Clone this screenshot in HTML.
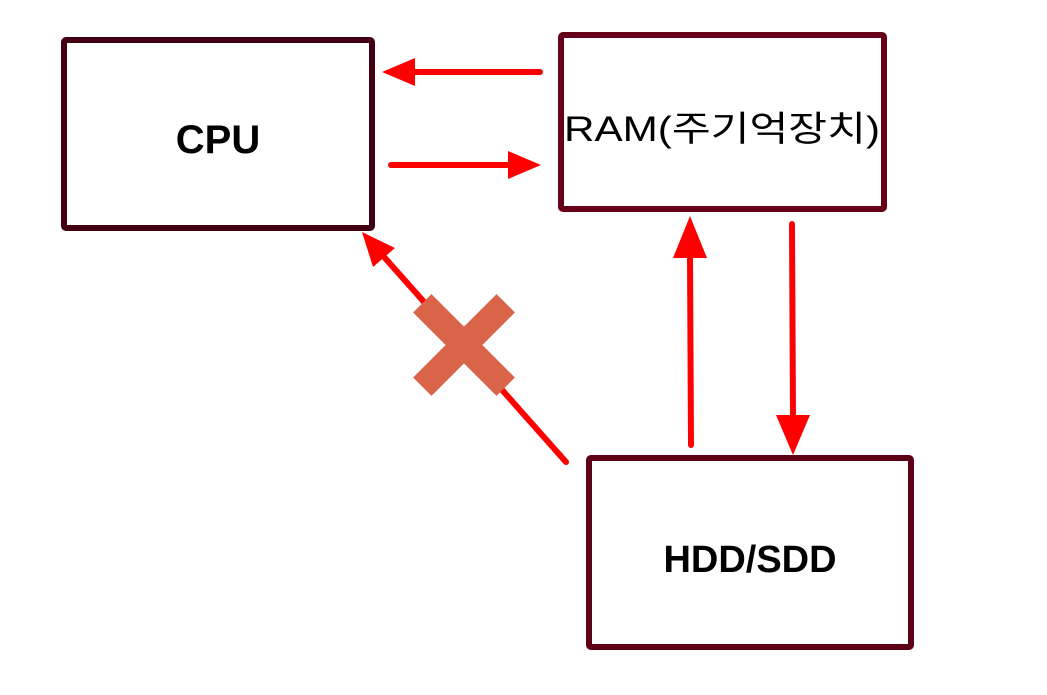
<!DOCTYPE html>
<html><head><meta charset="utf-8"><style>
html,body{margin:0;padding:0;background:#fff;}
svg{display:block}
</style></head><body>
<svg width="1047" height="695" viewBox="0 0 1047 695" xmlns="http://www.w3.org/2000/svg">
<rect x="64" y="40" width="308" height="188" fill="#fff" stroke="#420012" stroke-width="6" rx="2"/>
<rect x="561" y="35" width="323" height="174" fill="#fff" stroke="#650018" stroke-width="6" rx="2"/>
<rect x="589" y="458" width="322" height="189" fill="#fff" stroke="#5e0018" stroke-width="6" rx="2"/>
<text x="218" y="153" font-family="Liberation Sans, sans-serif" font-weight="bold" font-size="40" text-anchor="middle">CPU</text>
<text x="722" y="141" font-family="Liberation Sans, 'Noto Sans CJK KR', sans-serif" font-size="35" text-anchor="middle" textLength="316" lengthAdjust="spacingAndGlyphs">RAM(주기억장치)</text>
<text x="750" y="572" font-family="Liberation Sans, sans-serif" font-weight="bold" font-size="38" text-anchor="middle">HDD/SDD</text>
<g stroke="#ff0000" stroke-width="6" stroke-linecap="round" fill="#ff0000">
<line x1="540" y1="72" x2="410" y2="72"/>
<line x1="391" y1="165" x2="512" y2="165"/>
<line x1="691" y1="445" x2="690" y2="255"/>
<line x1="792" y1="224" x2="793" y2="418"/>
<line x1="566" y1="462" x2="385" y2="258"/>
</g>
<g fill="#ff0000">
<polygon points="382,72 415,58 415,86"/>
<polygon points="541,165 508,151 508,179"/>
<polygon points="690,216 673,258 707,258"/>
<polygon points="793,455 776,415 810,415"/>
<polygon points="362,232 395,248 373,267"/>
</g>
<g fill="#d9644a" transform="translate(464,345) rotate(45)">
<rect x="-59" y="-13" width="118" height="26"/>
<rect x="-13" y="-59" width="26" height="118"/>
</g>
</svg>
</body></html>
